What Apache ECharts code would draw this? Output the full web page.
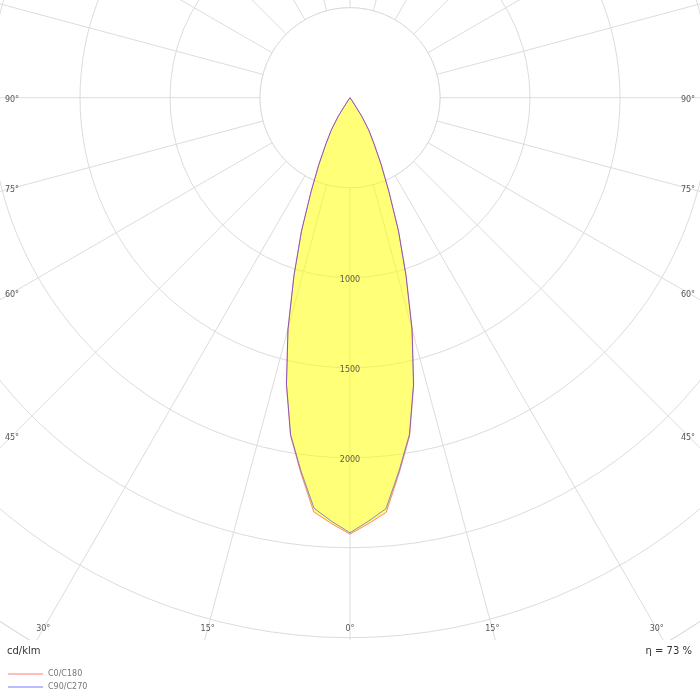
<!DOCTYPE html>
<html>
<head>
<meta charset="utf-8">
<script src="https://cdn.jsdelivr.net/npm/echarts@6/dist/echarts.min.js"></script>
<style>
html,body{margin:0;padding:0;background:#fff;}
#chart{width:700px;height:700px;}
</style>
</head>
<body>
<div id="chart"></div>
<script>
// Photometric angles (gamma, degrees) and intensities (cd/klm)
const GAMMA = [0, 2.5, 5, 7.5, 10, 12.5, 15, 17.5, 20, 22.5, 25, 27.5, 30, 32.5, 35, 37.5, 40, 180];
const C0   = [2425, 2368, 2312, 2100, 1908, 1635, 1335, 1038, 790, 568, 412, 292, 212, 122, 22, 0, 0, 0];
const C180 = [2425, 2368, 2310, 2100, 1905, 1632, 1333, 1036, 789, 566, 410, 290, 210, 120, 20, 0, 0, 0];
const C90  = [2417, 2355, 2292, 2090, 1900, 1630, 1330, 1033, 786, 565, 408, 289, 209, 119, 20, 0, 0, 0];
const C270 = [2417, 2355, 2290, 2090, 1900, 1630, 1330, 1034, 787, 565, 408, 289, 209, 119, 20, 0, 0, 0];
const ANGLE_TICKS = [0, 15, 30, 45, 60, 75, 90];
const RADIUS_LABELS = [1000, 1500, 2000];
const SERIES_NAMES = ['C0/C180', 'C90/C270'];
const UNIT = 'cd/klm';
const EFFICIENCY = 'η = 73 %';

// layout
const CX = 350, CY = 97.7, R_PX = 630, R_MAX = 3500, R_STEP = 500;
const FONT = 'DejaVu Sans';
const GRID = '#dcdcdc';

// build a closed curve: left half (angle = gamma), right half (angle = 360 - gamma)
function loop(left, right) {
  const pts = [];
  for (let i = 0; i < GAMMA.length; i++) pts.push([left[i], GAMMA[i]]);
  for (let i = GAMMA.length - 1; i >= 0; i--) pts.push([right[i], 360 - GAMMA[i]]);
  return pts;
}

const chart = echarts.init(document.getElementById('chart'), null, {renderer: 'canvas'});

// angle labels along the edges of the plot area
const LEFT_X = 12, RIGHT_X = 688, BOTTOM_Y = 629;
const angleTexts = [];
ANGLE_TICKS.forEach(g => {
  const sides = g === 0 ? [1] : [-1, 1];
  sides.forEach(s => {
    const rad = g * Math.PI / 180;
    const dx = s * Math.sin(rad), dy = Math.cos(rad);
    let tx = Infinity, ty = Infinity;
    if (Math.abs(dx) > 1e-9) tx = (s > 0 ? (RIGHT_X - CX) : (LEFT_X - CX)) / dx;
    if (dy > 1e-9) ty = (BOTTOM_Y - CY) / dy;
    const t = Math.min(tx, ty);
    let x = CX + dx * t, y = CY + dy * t;
    if (tx < ty) y += 1.8;
    angleTexts.push({
      type: 'text', x: x, y: y, z: 101, silent: true,
      style: {text: g + '°', align: 'center', verticalAlign: 'middle',
              fontSize: 8, fontFamily: FONT, fill: '#555'}
    });
  });
});

const option = {
  animation: false,
  backgroundColor: '#fff',
  polar: {center: [CX, CY], radius: R_PX},
  angleAxis: {
    type: 'value', min: 0, max: 360, interval: 15,
    startAngle: 270, clockwise: true,
    axisLine: {show: true, lineStyle: {color: GRID, width: 1}},
    axisTick: {show: false}, axisLabel: {show: false},
    splitLine: {show: true, lineStyle: {color: GRID, width: 1}}
  },
  radiusAxis: {
    type: 'value', min: 0, max: R_MAX, interval: R_STEP,
    axisLine: {show: false}, axisTick: {show: false}, axisLabel: {show: false},
    splitLine: {show: true, lineStyle: {color: GRID, width: 1}}
  },
  legend: {
    orient: 'vertical', left: 7, top: 670, z: 200, padding: 0,
    itemWidth: 35, itemHeight: 8, itemGap: 5,
    textStyle: {fontSize: 8, fontFamily: FONT, color: '#777'},
    data: [
      {name: SERIES_NAMES[0], itemStyle: {opacity: 0}, lineStyle: {color: '#ffbcbc', width: 2}},
      {name: SERIES_NAMES[1], itemStyle: {opacity: 0}, lineStyle: {color: '#bcbcff', width: 2}}
    ]
  },
  series: [
    {
      name: SERIES_NAMES[0], type: 'line', coordinateSystem: 'polar',
      data: loop(C180, C0), symbol: 'none', smooth: false, z: 3,
      lineStyle: {color: 'rgba(255,40,40,0.55)', width: 1},
      itemStyle: {color: '#ffbcbc'},
      areaStyle: {color: 'rgba(255,255,0,0.53)', opacity: 1}
    },
    {
      name: SERIES_NAMES[1], type: 'line', coordinateSystem: 'polar',
      data: loop(C270, C90), symbol: 'none', smooth: false, z: 4,
      lineStyle: {color: 'rgba(40,40,255,0.55)', width: 1},
      itemStyle: {color: '#bcbcff'}
    },
    {
      name: 'labels', type: 'scatter', coordinateSystem: 'polar', silent: true, z: 6,
      data: RADIUS_LABELS.map(v => [v, 0]),
      symbolSize: 1, itemStyle: {color: 'rgba(0,0,0,0)'},
      label: {show: true, position: 'inside', offset: [0, 2.5],
              formatter: p => String(p.value[0]),
              fontSize: 8, fontFamily: FONT, color: '#333'}
    }
  ],
  graphic: [
    {type: 'circle', z: 1, silent: true,
     shape: {cx: CX, cy: CY, r: R_PX * R_STEP / R_MAX},
     style: {fill: '#fff', stroke: GRID, lineWidth: 1}},
    {type: 'rect', z: 100, silent: true,
     shape: {x: 0, y: 640, width: 700, height: 60},
     style: {fill: '#fff'}},
    {type: 'text', x: 7, y: 651, z: 101, silent: true,
     style: {text: UNIT, align: 'left', verticalAlign: 'middle', fontSize: 10, fontFamily: FONT, fill: '#333'}},
    {type: 'text', x: 692, y: 651, z: 101, silent: true,
     style: {text: EFFICIENCY, align: 'right', verticalAlign: 'middle', fontSize: 10, fontFamily: FONT, fill: '#333'}}
  ].concat(angleTexts)
};
chart.setOption(option);
</script>
</body>
</html>
